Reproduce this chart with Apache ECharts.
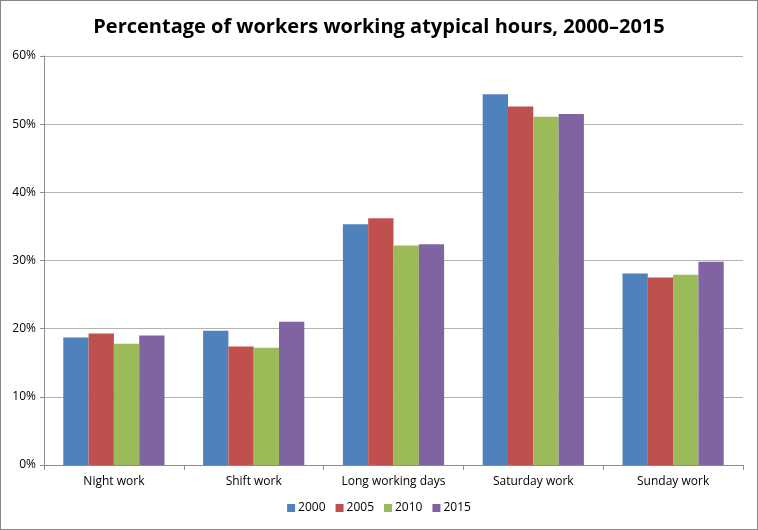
<!DOCTYPE html>
<html>
<head>
<meta charset="utf-8">
<style>
html, body { margin: 0; padding: 0; background: #fff; }
#chartElem {
	width: 756px;
	height: 528px;
	border: 1px solid #868686;
}
</style>
</head>
<body>
<div id="chartElem"></div>

<script src="https://cdn.jsdelivr.net/npm/echarts@6/dist/echarts.min.js"></script>

<script>

let categories = ["Night work", "Shift work", "Long working days", "Saturday work", "Sunday work"];

let years = ["2000", "2005", "2010", "2015"];

let values2000 = [18.7, 19.7, 35.3, 54.4, 28.1];
let values2005 = [19.3, 17.4, 36.2, 52.6, 27.5];
let values2010 = [17.8, 17.2, 32.2, 51.1, 27.9];
let values2015 = [19.0, 21.0, 32.4, 51.5, 29.8];

let colors = ["#4F81BD", "#C0504D", "#9BBB59", "#8064A2"];

let chart = echarts.init(document.getElementById("chartElem"));

let fontFamily = "'Open Sans', 'Noto Sans', sans-serif";

chart.setOption({
	color: colors,
	title: {
		text: "Percentage of workers working atypical hours, 2000\u20132015",
		left: "center",
		top: 11,
		textStyle: {
			fontFamily: fontFamily,
			fontSize: 20,
			fontWeight: "bold",
			color: "#000"
		}
	},
	legend: {
		bottom: 10,
		left: "center",
		itemWidth: 8,
		itemHeight: 8,
		itemGap: 10,
		icon: "rect",
		textStyle: {
			fontFamily: fontFamily,
			fontSize: 12,
			color: "#000",
			padding: [0, 0, 0, -2]
		},
		data: years
	},
	grid: {
		left: 43,
		right: 14,
		top: 55,
		bottom: 64,
		containLabel: false
	},
	xAxis: {
		type: "category",
		data: categories,
		axisLine: { lineStyle: { color: "#8c8c8c" } },
		axisTick: { show: true, length: 5, lineStyle: { color: "#8c8c8c" } },
		axisLabel: {
			fontFamily: fontFamily,
			fontSize: 12,
			color: "#000",
			margin: 11
		}
	},
	yAxis: {
		type: "value",
		min: 0,
		max: 60,
		interval: 10,
		axisLine: { show: true, lineStyle: { color: "#8c8c8c" } },
		axisTick: { show: true, length: 4, lineStyle: { color: "#8c8c8c" } },
		splitLine: { lineStyle: { color: "#b3b3b3" } },
		axisLabel: {
			fontFamily: fontFamily,
			fontSize: 12,
			color: "#000",
			margin: 8,
			formatter: "{value}%"
		}
	},
	series: [values2000, values2005, values2010, values2015].map((data, i) => ({
		name: years[i],
		type: "bar",
		data: data,
		barGap: "0%",
		barCategoryGap: "27.6%"
	}))
});

</script>
</body>
</html>
